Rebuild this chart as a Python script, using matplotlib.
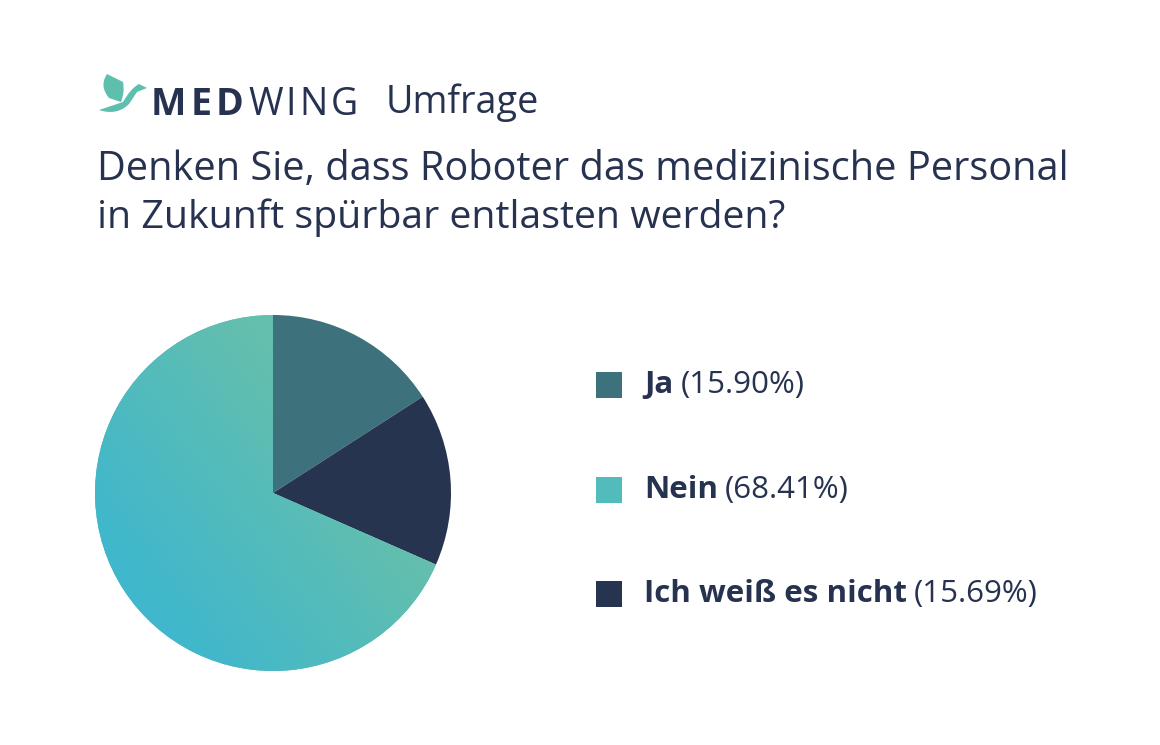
import numpy as np
import matplotlib.pyplot as plt
from matplotlib.patches import Rectangle, PathPatch
from matplotlib.path import Path
from matplotlib.colors import LinearSegmentedColormap

plt.rcParams['font.family'] = ['Open Sans', 'DejaVu Sans']

labels = ['Ja', 'Nein', 'Ich weiß es nicht']
values = [15.90, 68.41, 15.69]
colors = ['#3d717b', '#58bdb9', '#26344f']

navy = '#26324f'
W, H = 1160, 745

fig = plt.figure(figsize=(W / 100, H / 100), dpi=100)
fig.patch.set_facecolor('white')
renderer = fig.canvas.get_renderer()


def fx(x):
    return x / W


def fy(y):
    return 1 - y / H


def fit_text(x, y, s, width, **kw):
    # Schriftgröße so anpassen, dass der Text die gewünschte Breite hat
    t = fig.text(fx(x), fy(y), s, va='center', ha='left', color=navy, **kw)
    w = t.get_window_extent(renderer).width
    t.set_fontsize(t.get_fontsize() * width / w)
    return t


def spaced_text(x, y, s, gap, **kw):
    # Buchstaben einzeln mit Sperrung setzen (Grundlinie bei y)
    for ch in s:
        t = fig.text(fx(x), fy(y), ch, va='baseline', ha='left', color=navy, **kw)
        x = t.get_window_extent(renderer).x1 + gap
    return x


# logo (kleiner Vogel)
lax = fig.add_axes([fx(95), fy(116), fx(54), 44 / H])
lax.set_xlim(0, 54)
lax.set_ylim(0, 44)
lax.axis('off')
teal = '#5fbfae'
wing = Path([(12, 42), (4, 30), (14, 18), (26, 14), (30, 24), (28, 34), (12, 42)],
            [Path.MOVETO, Path.CURVE3, Path.CURVE3, Path.LINETO, Path.CURVE3, Path.CURVE3, Path.CLOSEPOLY])
body = Path([(4, 6), (22, 0), (34, 12), (42, 24), (52, 28), (44, 32), (36, 28), (28, 14), (4, 6)],
            [Path.MOVETO, Path.CURVE3, Path.CURVE3, Path.LINETO, Path.LINETO, Path.LINETO,
             Path.CURVE3, Path.CURVE3, Path.CLOSEPOLY])
lax.add_patch(PathPatch(wing, fc=teal, ec='none'))
lax.add_patch(PathPatch(body, fc=teal, ec='none'))

x_end = spaced_text(151, 115, 'MED', 4, fontsize=27, fontweight='bold')
spaced_text(x_end + 1, 115, 'WING', 3, fontsize=27, fontweight='normal')
fit_text(386, 103, 'Umfrage', 154, fontsize=24)

fit_text(97, 170, 'Denken Sie, dass Roboter das medizinische Personal', 975, fontsize=24)
fit_text(97, 218, 'in Zukunft spürbar entlasten werden?', 690, fontsize=24)

# Kreisdiagramm
ax = fig.add_axes([fx(95), fy(671), fx(356), 356 / H])
order = [0, 2, 1]
wedges, _ = ax.pie([values[i] for i in order], colors=[colors[i] for i in order],
                   startangle=90, counterclock=False, radius=1,
                   wedgeprops=dict(linewidth=0))
ax.set_xlim(-1, 1)
ax.set_ylim(-1, 1)
ax.set_aspect('equal')
ax.axis('off')

# Verlauf im Nein-Segment
cmap = LinearSegmentedColormap.from_list('nein', ['#40b7cc', '#64bfad'])
xx, yy = np.meshgrid(np.linspace(-1, 1, 300), np.linspace(-1, 1, 300))
n = np.array([1.0, 0.75])
n /= np.linalg.norm(n)
grad = xx * n[0] + yy * n[1]
im = ax.imshow(grad, extent=[-1, 1, -1, 1], origin='lower', cmap=cmap,
               vmin=-0.9, vmax=0.45, zorder=3, interpolation='bilinear')
im.set_clip_path(wedges[2])

# Legende
ys = [385, 490, 594]
probe = fit_text(0, 0, labels[2], 262, fontsize=19, fontweight='bold')
leg_fs = probe.get_fontsize()
probe.remove()
for lab, val, col, y in zip(labels, values, colors, ys):
    fc = '#52bcbd' if lab == 'Nein' else col
    fig.patches.append(Rectangle((fx(596), fy(y + 13)), fx(26), 26 / H,
                                 transform=fig.transFigure, fc=fc, ec='none'))
    t = fig.text(fx(644), fy(y), lab, fontsize=leg_fs, fontweight='bold',
                 color=navy, va='center', ha='left')
    x1 = t.get_window_extent(renderer).x1
    fig.text(x1 / W + fx(7), fy(y), f'({val:.2f}%)', fontsize=leg_fs,
             color=navy, va='center', ha='left')

fig.savefig('out.png', dpi=100, facecolor='white')
